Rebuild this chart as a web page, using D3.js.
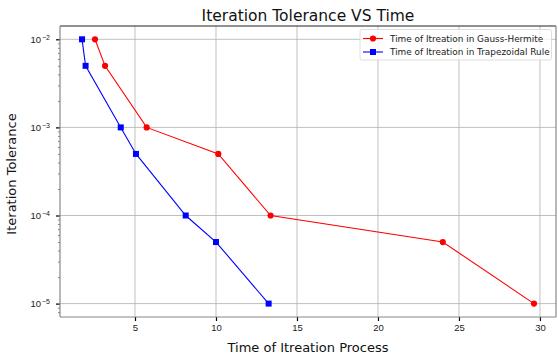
<!DOCTYPE html>
<html><head><meta charset="utf-8">
<script src="https://cdn.jsdelivr.net/npm/d3@7"></script>
<style>body{margin:0;background:#fff}svg{display:block;font-family:"DejaVu Sans",sans-serif}</style>
</head><body><svg id="c" width="558" height="357"></svg>
<script>
const tolerance = [1e-2, 5e-3, 1e-3, 5e-4, 1e-4, 5e-5, 1e-5];
const gaussHermiteTime = [2.53, 3.15, 5.72, 10.14, 13.37, 24.0, 29.63];
const trapezoidTime = [1.73, 1.95, 4.12, 5.06, 8.13, 10.0, 13.25];
const xTicks = [5, 10, 15, 20, 25, 30];
const yTicks = [1e-2, 1e-3, 1e-4, 1e-5];
const seriesNames = ["Time of Itreation in Gauss-Hermite", "Time of Itreation in Trapezoidal Rule"];

const svg = d3.select("#c");
const L = 60, R = 556, T = 26, B = 317;
const x = d3.scaleLinear().domain([0.37, 30.99]).range([L, R]);
const y = d3.scaleLog().domain([Math.pow(10, -5.152), Math.pow(10, -1.849)]).range([B, T]);

// grid
const g = svg.append("g");
xTicks.forEach(t => g.append("line").attr("x1", x(t)).attr("x2", x(t)).attr("y1", T).attr("y2", B).attr("stroke", "#b0b0b0").attr("stroke-width", 0.8));
yTicks.forEach(t => g.append("line").attr("x1", L).attr("x2", R).attr("y1", y(t)).attr("y2", y(t)).attr("stroke", "#b0b0b0").attr("stroke-width", 0.8));

// axes
const xAxis = svg.append("g").attr("transform", `translate(0,${B})`)
  .call(d3.axisBottom(x).tickValues(xTicks).tickSize(4).tickPadding(3).tickFormat(d3.format("d")));
xAxis.select(".domain").remove();
xAxis.selectAll(".tick line").attr("stroke", "#000").attr("stroke-width", 1.2);
xAxis.selectAll("text").attr("font-size", 9.5).attr("fill", "#222");

const minors = [];
for (let e = -6; e <= -2; e++) for (let m = 2; m <= 9; m++) { const v = m * Math.pow(10, e); if (v > y.domain()[0] && v < y.domain()[1]) minors.push(v); }
const yMinor = svg.append("g").attr("transform", `translate(${L},0)`)
  .call(d3.axisLeft(y).tickValues(minors).tickSize(2).tickFormat(""));
yMinor.select(".domain").remove();
yMinor.selectAll(".tick line").attr("stroke", "#333").attr("stroke-width", 0.6);

const yAxis = svg.append("g").attr("transform", `translate(${L},0)`)
  .call(d3.axisLeft(y).tickValues(yTicks).tickSize(4).tickPadding(3).tickFormat(""));
yAxis.select(".domain").remove();
yAxis.selectAll(".tick line").attr("stroke", "#000").attr("stroke-width", 1.2);
yAxis.selectAll(".tick").each(function(d) {
  const t = d3.select(this).append("text").attr("x", -10).attr("dy", "0.32em").attr("text-anchor", "end").attr("font-size", 9.5).attr("fill", "#222");
  t.append("tspan").text("10");
  t.append("tspan").attr("dy", "-0.45em").attr("dx", 1).attr("font-size", 7).text("\u2212" + Math.round(-Math.log10(d)));
});

// spines
svg.append("line").attr("x1", L).attr("x2", R).attr("y1", T).attr("y2", T).attr("stroke", "#222").attr("stroke-width", 1);
svg.append("line").attr("x1", L).attr("x2", L).attr("y1", T).attr("y2", B).attr("stroke", "#888").attr("stroke-width", 1.2);
svg.append("line").attr("x1", L).attr("x2", R).attr("y1", B).attr("y2", B).attr("stroke", "#888").attr("stroke-width", 1.2);
svg.append("line").attr("x1", R).attr("x2", R).attr("y1", T).attr("y2", B).attr("stroke", "#888").attr("stroke-width", 1.2);

// lines
const line = d3.line().x(d => x(d[0])).y(d => y(d[1]));
const red = gaussHermiteTime.map((t, i) => [t, tolerance[i]]);
const blue = trapezoidTime.map((t, i) => [t, tolerance[i]]);
svg.append("path").attr("d", line(red)).attr("fill", "none").attr("stroke", "#ff0000").attr("stroke-width", 1.1);
svg.selectAll(".rp").data(red).join("circle").attr("cx", d => x(d[0])).attr("cy", d => y(d[1])).attr("r", 3.1).attr("fill", "#ff0000");
svg.append("path").attr("d", line(blue)).attr("fill", "none").attr("stroke", "#0000ff").attr("stroke-width", 1.1);
svg.selectAll(".bp").data(blue).join("rect").attr("x", d => x(d[0]) - 3).attr("y", d => y(d[1]) - 3).attr("width", 6).attr("height", 6).attr("fill", "#0000ff");

// legend
const lg = svg.append("g");
lg.append("rect").attr("x", 360).attr("y", 29.5).attr("width", 191.5).attr("height", 30.5).attr("rx", 2).attr("fill", "rgba(255,255,255,0.8)").attr("stroke", "#d5d5d5").attr("stroke-width", 0.8);
[["#ff0000", "c"], ["#0000ff", "s"]].forEach((s, i) => {
  const yy = 38.5 + i * 13.5;
  lg.append("line").attr("x1", 363).attr("x2", 383).attr("y1", yy).attr("y2", yy).attr("stroke", s[0]).attr("stroke-width", 1.1);
  if (s[1] === "c") lg.append("circle").attr("cx", 373).attr("cy", yy).attr("r", 3.1).attr("fill", s[0]);
  else lg.append("rect").attr("x", 370).attr("y", yy - 3).attr("width", 6).attr("height", 6).attr("fill", s[0]);
  lg.append("text").attr("x", 390).attr("y", yy).attr("dy", "0.35em").attr("font-size", 8.9).attr("fill", "#222").text(seriesNames[i]);
});

// titles
svg.append("text").attr("x", (L + R) / 2).attr("y", 21).attr("text-anchor", "middle").attr("font-size", 15.5).attr("fill", "#111").text("Iteration Tolerance VS Time");
svg.append("text").attr("x", (L + R) / 2).attr("y", 352).attr("text-anchor", "middle").attr("font-size", 13).attr("fill", "#111").text("Time of Itreation Process");
svg.append("text").attr("transform", `translate(16,174) rotate(-90)`).attr("text-anchor", "middle").attr("font-size", 13).attr("fill", "#111").text("Iteration Tolerance");
</script></body></html>
